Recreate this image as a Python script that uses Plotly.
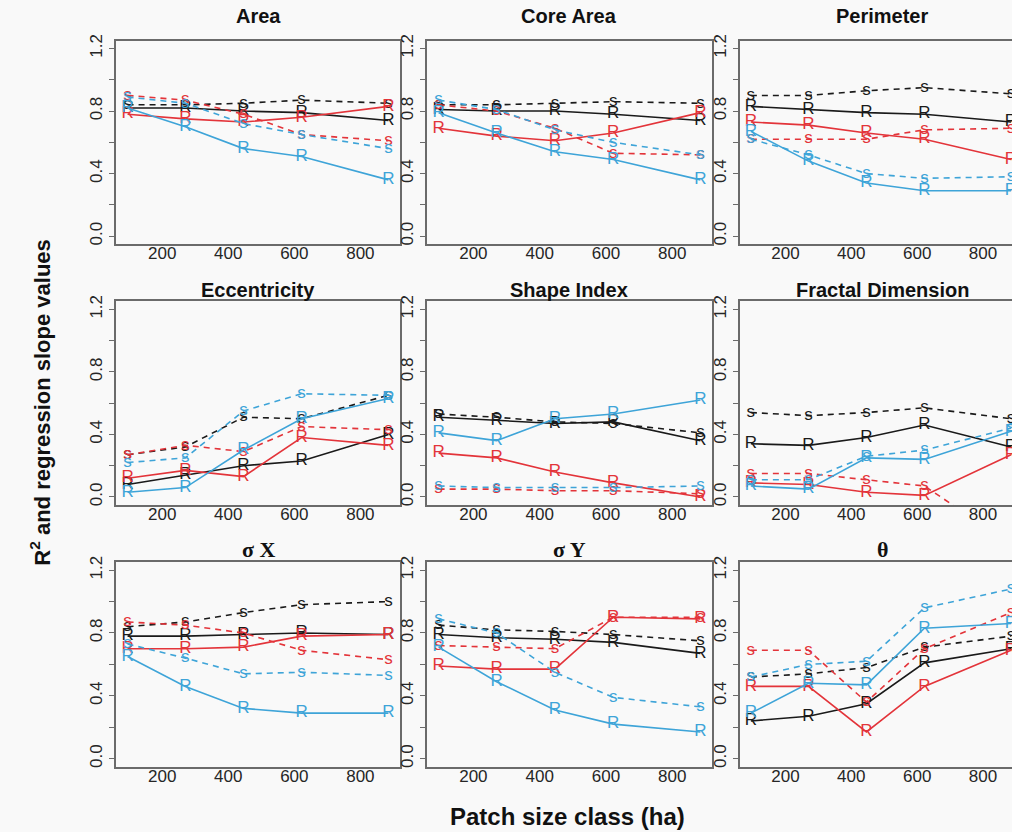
import plotly.graph_objects as go

# ---------------- data ----------------
x_classes = [95, 270, 446, 622, 885]
panel_titles = ["Area", "Core Area", "Perimeter",
                "Eccentricity", "Shape Index", "Fractal Dimension",
                "σ Χ", "σ Υ", "θ"]
x_tick_vals = [200, 400, 600, 800]
y_tick_vals = [0.0, 0.4, 0.8, 1.2]
y_tick_text = ["0.0", "0.4", "0.8", "1.2"]

# one list per panel (in reading order), one series per colour / statistic
black_R = [[0.82, 0.82, 0.80, 0.79, 0.74], [0.81, 0.80, 0.80, 0.78, 0.74], [0.83, 0.81, 0.79, 0.78, 0.73],
           [0.08, 0.14, 0.20, 0.23, 0.40], [0.51, 0.49, 0.47, 0.48, 0.36], [0.34, 0.33, 0.38, 0.46, 0.32],
           [0.78, 0.78, 0.79, 0.80, 0.79], [0.79, 0.77, 0.76, 0.74, 0.67], [0.24, 0.27, 0.35, 0.61, 0.70]]
black_s = [[0.84, 0.84, 0.85, 0.87, 0.85], [0.84, 0.84, 0.85, 0.86, 0.85], [0.90, 0.90, 0.93, 0.95, 0.91],
           [0.27, 0.32, 0.51, 0.50, 0.65], [0.53, 0.51, 0.48, 0.47, 0.41], [0.54, 0.52, 0.54, 0.57, 0.50],
           [0.84, 0.87, 0.93, 0.98, 1.00], [0.85, 0.82, 0.81, 0.79, 0.75], [0.52, 0.54, 0.58, 0.71, 0.78]]
red_R = [[0.78, 0.75, 0.73, 0.76, 0.83], [0.69, 0.64, 0.61, 0.66, 0.79], [0.73, 0.71, 0.66, 0.62, 0.49],
         [0.12, 0.17, 0.13, 0.38, 0.33], [0.28, 0.25, 0.16, 0.09, 0.00], [0.09, 0.08, 0.03, 0.01, 0.27],
         [0.70, 0.70, 0.71, 0.78, 0.79], [0.59, 0.57, 0.57, 0.90, 0.89], [0.46, 0.46, 0.17, 0.46, 0.69]]
red_s = [[0.90, 0.87, 0.78, 0.65, 0.61], [0.84, 0.80, 0.69, 0.53, 0.52], [0.62, 0.62, 0.62, 0.68, 0.69],
         [0.27, 0.33, 0.29, 0.45, 0.43], [0.05, 0.05, 0.04, 0.04, 0.02], [0.15, 0.15, 0.11, 0.07, -0.30],
         [0.87, 0.85, 0.80, 0.69, 0.63], [0.72, 0.71, 0.70, 0.90, 0.90], [0.69, 0.69, 0.36, 0.70, 0.93]]
blue_R = [[0.82, 0.70, 0.56, 0.51, 0.36], [0.79, 0.66, 0.54, 0.49, 0.36], [0.67, 0.48, 0.34, 0.29, 0.29],
          [0.03, 0.06, 0.30, 0.50, 0.63], [0.41, 0.36, 0.50, 0.53, 0.62], [0.07, 0.05, 0.25, 0.24, 0.42],
          [0.65, 0.46, 0.32, 0.29, 0.29], [0.71, 0.49, 0.31, 0.22, 0.17], [0.29, 0.48, 0.47, 0.83, 0.86]]
blue_s = [[0.89, 0.85, 0.72, 0.65, 0.56], [0.87, 0.81, 0.68, 0.60, 0.52], [0.62, 0.52, 0.40, 0.37, 0.38],
          [0.22, 0.25, 0.55, 0.66, 0.65], [0.07, 0.06, 0.06, 0.06, 0.07], [0.11, 0.11, 0.26, 0.30, 0.44],
          [0.73, 0.64, 0.54, 0.55, 0.53], [0.89, 0.80, 0.55, 0.39, 0.33], [0.52, 0.60, 0.62, 0.96, 1.08]]

# ---------------- style / layout ----------------
W, H = 1012, 832
BLACK, RED, BLUE = "#1a1a1a", "#e3343a", "#3ea4d8"
FRAME = "#6b6b6b"
BG = "#f9f9f9"
series = [
    (black_R, BLACK, "solid", "R"),
    (black_s, BLACK, "6px,5px", "s"),
    (red_R, RED, "solid", "R"),
    (red_s, RED, "6px,5px", "s"),
    (blue_R, BLUE, "solid", "R"),
    (blue_s, BLUE, "6px,5px", "s"),
]

col_px = [(116, 400), (427, 712), (740, 1012)]
col_range = [[60, 920], [60, 920], [62, 888]]
row_px = [(35, 240), (298, 503), (561, 767)]
title_y_px = [10, 286, 548]
title_x_px = [258, 569, 882]

fig = go.Figure()
layout = dict(
    width=W, height=H, autosize=False,
    margin=dict(l=0, r=0, t=0, b=0),
    paper_bgcolor=BG, plot_bgcolor=BG,
    showlegend=False,
    font=dict(family="Liberation Sans, Arial, sans-serif", color="#222"),
)
annotations = []

for i in range(9):
    r, c = divmod(i, 3)
    n = "" if i == 0 else str(i + 1)
    xa, ya = "x" + n, "y" + n
    for data, col, dash, lab in series:
        fig.add_trace(go.Scatter(
            x=x_classes, y=data[i], xaxis=xa, yaxis=ya,
            mode="lines+text", text=[lab] * len(x_classes),
            textposition="middle center",
            textfont=dict(color=col, size=17, family="Liberation Sans, Arial"),
            line=dict(color=col, width=1.6, dash=dash),
            cliponaxis=True, hoverinfo="skip", showlegend=False,
        ))
    x0, x1 = col_px[c]
    y0, y1 = row_px[r]
    layout["xaxis" + n] = dict(
        domain=[x0 / W, x1 / W], range=col_range[c], anchor=ya,
        tickvals=x_tick_vals, ticks="", showgrid=False, zeroline=False,
        showline=True, mirror=True, linecolor=FRAME, linewidth=1.5,
        tickfont=dict(size=17, color="#262626"), ticklabelstandoff=-7,
    )
    layout["yaxis" + n] = dict(
        domain=[1 - y1 / H, 1 - y0 / H], range=[-0.05, 1.25], anchor=xa,
        tickvals=y_tick_vals, ticktext=y_tick_text, tickangle=-90,
        ticks="outside", ticklen=5, tickcolor=FRAME, tickwidth=1,
        minor=dict(tickvals=[0.2, 0.6, 1.0], ticks="outside", ticklen=5,
                   tickcolor=FRAME, tickwidth=1),
        showgrid=False, zeroline=False,
        showline=True, mirror=(c < 2), linecolor=FRAME, linewidth=1.5,
        tickfont=dict(size=17, color="#262626"),
    )
    greek = panel_titles[i] in ("σ Χ", "σ Υ", "θ")
    annotations.append(dict(
        text="<b>" + panel_titles[i] + "</b>", xref="paper", yref="paper",
        x=title_x_px[c] / W, y=1 - title_y_px[r] / H,
        xanchor="center", yanchor="middle", showarrow=False,
        font=dict(size=22 if greek else 20, color="#111",
                  family=("Liberation Serif, serif" if greek else "Liberation Sans, Arial")),
    ))

annotations.append(dict(
    text="<b>Patch size class (ha)</b>", xref="paper", yref="paper",
    x=567 / W, y=1 - 817 / H, xanchor="center", yanchor="middle",
    showarrow=False, font=dict(size=24, color="#111"),
))
annotations.append(dict(
    text="<b>R<sup>2</sup> and regression slope values</b>", xref="paper", yref="paper",
    x=40 / W, y=1 - 400 / H, xanchor="center", yanchor="middle", textangle=-90,
    showarrow=False, font=dict(size=22, color="#111"),
))
layout["annotations"] = annotations
fig.update_layout(**layout)
fig.write_html(
    "out.html",
    config={"displayModeBar": False},
    post_script="document.body.style.margin='0';document.body.style.overflow='hidden';",
)
